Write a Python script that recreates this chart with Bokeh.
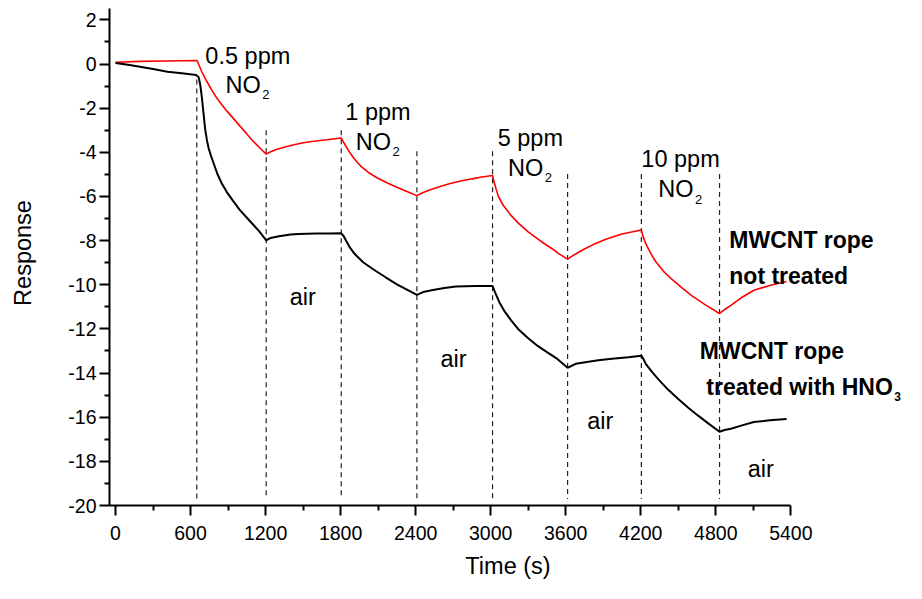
from bokeh.plotting import figure
from bokeh.models import Range1d, FixedTicker
from bokeh.core.properties import value
from bokeh.embed import file_html
from bokeh.resources import INLINE

# ---- data ----
time_red = [0, 200, 400, 652, 690, 731, 770, 809, 850, 888, 940, 992, 1045, 1097, 1150, 1205,
            1240, 1280, 1340, 1410, 1490, 1570, 1690, 1805,
            1820, 1840, 1870, 1910, 1960, 2020, 2090, 2170, 2250, 2330, 2410,
            2460, 2511, 2590, 2669, 2760, 2852, 2930, 3015,
            3030, 3045, 3062, 3100, 3166, 3230, 3300, 3370, 3430, 3500, 3546, 3615,
            3650, 3690, 3742, 3820, 3926, 4050, 4205,
            4215, 4240, 4280, 4319, 4380, 4450, 4530, 4607, 4720, 4830,
            4870, 4921, 5000, 5105, 5230, 5366]
resp_red = [0.08, 0.12, 0.14, 0.16, -0.35, -0.79, -1.18, -1.53, -1.84, -2.11, -2.45, -2.79, -3.13, -3.47, -3.78, -4.08,
            -3.97, -3.88, -3.78, -3.68, -3.58, -3.51, -3.43, -3.35,
            -3.5, -3.7, -3.98, -4.3, -4.62, -4.9, -5.15, -5.38, -5.58, -5.77, -5.96,
            -5.82, -5.71, -5.56, -5.42, -5.3, -5.2, -5.12, -5.05,
            -5.4, -5.7, -6.0, -6.4, -6.88, -7.25, -7.6, -7.9, -8.14, -8.4, -8.6, -8.84,
            -8.7, -8.57, -8.4, -8.18, -7.93, -7.7, -7.52,
            -7.75, -8.14, -8.58, -8.95, -9.38, -9.76, -10.14, -10.49, -10.92, -11.3,
            -11.12, -10.93, -10.6, -10.25, -10.03, -9.85]

time_black = [0, 100, 207, 300, 416, 530, 645,
              665, 678, 691, 704, 717, 731, 744, 763, 783, 815, 849, 890, 940, 990, 1045, 1100, 1150, 1205,
              1240, 1307, 1400, 1464, 1600, 1700, 1805,
              1825, 1845, 1875, 1909, 1980, 2066, 2160, 2250, 2330, 2410,
              2460, 2538, 2630, 2721, 2880, 3015,
              3035, 3070, 3114, 3165, 3219, 3300, 3376, 3450, 3533, 3615,
              3680, 3769, 3860, 3950, 4100, 4205,
              4225, 4240, 4290, 4345, 4420, 4502, 4580, 4659, 4745, 4830,
              4870, 4921, 5010, 5105, 5230, 5366]
resp_black = [0.05, -0.03, -0.13, -0.22, -0.35, -0.42, -0.5,
              -0.6, -0.95, -1.53, -2.25, -2.95, -3.45, -3.8, -4.15, -4.47, -4.98, -5.4, -5.8, -6.2, -6.58, -6.93, -7.27, -7.58, -7.99,
              -7.88, -7.8, -7.72, -7.7, -7.68, -7.68, -7.67,
              -7.8, -8.02, -8.32, -8.58, -8.98, -9.32, -9.66, -9.98, -10.22, -10.46,
              -10.33, -10.24, -10.15, -10.08, -10.05, -10.05,
              -10.34, -10.8, -11.23, -11.62, -12.0, -12.42, -12.77, -13.05, -13.36, -13.76,
              -13.58, -13.5, -13.42, -13.36, -13.28, -13.21,
              -13.4, -13.58, -13.95, -14.31, -14.76, -15.19, -15.57, -15.93, -16.3, -16.66,
              -16.58, -16.52, -16.37, -16.22, -16.14, -16.08]

switch_times = [650, 1205, 1805, 2410, 3015, 3615, 4205, 4830]
dash_tops = [-0.7, -3.0, -3.0, -3.95, -3.95, -4.98, -4.98, -4.98]
dash_bottom = -19.7

conc_labels = ["0.5 ppm", "1 ppm", "5 ppm", "10 ppm"]
conc_x = [1058, 2099, 3317, 4518]
conc_y = [0.36, -2.19, -3.35, -4.32]
no2_y = [-0.94, -3.51, -4.69, -5.67]

air_x = [1497, 2703, 3877, 5160]
air_y = [-10.56, -13.36, -16.15, -18.36]

sample_labels = ["MWCNT rope", "not treated", "MWCNT rope", "treated with HNO"]
sample_x = [4908, 4908, 4672, 4724]
sample_y = [-7.99, -9.59, -13.02, -14.61]

x_ticks = [0, 600, 1200, 1800, 2400, 3000, 3600, 4200, 4800, 5400]
x_minor = [300, 900, 1500, 2100, 2700, 3300, 3900, 4500, 5100]
y_ticks = [-20, -18, -16, -14, -12, -10, -8, -6, -4, -2, 0, 2]
y_tick_labels = ["-20", "-18", "-16", "-14", "-12", "-10", "-8", "-6", "-4", "-2", "0", "2"]
y_minor = [-19, -17, -15, -13, -11, -9, -7, -5, -3, -1, 1]

FONT = "Liberation Sans"

p = figure(width=906, height=583, x_range=Range1d(-48, 6325), y_range=Range1d(-20, 2.88),
           output_backend="svg", toolbar_location=None,
           min_border_left=109, min_border_right=0, min_border_top=0, min_border_bottom=78)
p.outline_line_color = None
p.xgrid.visible = False
p.ygrid.visible = False
p.background_fill_color = "white"
p.border_fill_color = "white"

# axes
p.xaxis.bounds = (-48, 5400)
p.yaxis.bounds = (-20, 2.5)
p.xaxis.ticker = FixedTicker(ticks=x_ticks, minor_ticks=x_minor)
p.yaxis.ticker = FixedTicker(ticks=y_ticks, minor_ticks=y_minor)
p.yaxis.major_label_overrides = {t: s for t, s in zip(y_ticks, y_tick_labels)}
for ax in (p.xaxis, p.yaxis):
    ax.axis_line_width = 2
    ax.axis_line_color = "black"
    ax.major_tick_line_width = 2
    ax.minor_tick_line_width = 2
    ax.major_tick_line_color = "black"
    ax.minor_tick_line_color = "black"
    ax.major_tick_in = 0
    ax.major_tick_out = 10
    ax.minor_tick_in = 0
    ax.minor_tick_out = 5
    ax.major_label_text_font = FONT
    ax.major_label_text_font_size = "19.5px"
    ax.major_label_text_color = "black"
    ax.axis_label_text_font = FONT
    ax.axis_label_text_font_size = "23.5px"
    ax.axis_label_text_font_style = "normal"
    ax.axis_label_text_color = "black"
p.xaxis.axis_label = "Time (s)"
p.yaxis.axis_label = "Response"
p.xaxis.major_label_standoff = 10
p.yaxis.major_label_standoff = 3
p.xaxis.axis_label_standoff = 10
p.yaxis.axis_label_standoff = 29

# dashed switching lines
p.segment(x0=switch_times, y0=dash_tops, x1=switch_times, y1=[dash_bottom] * len(switch_times),
          line_color="#222222", line_width=1.2, line_dash="5 4")

# curves
p.line(time_red, resp_red, line_color="#ff0000", line_width=1.6)
p.line(time_black, resp_black, line_color="black", line_width=2)

# concentration labels
p.text(x=conc_x, y=conc_y, text=conc_labels, text_font=value(FONT), text_font_size="23.5px",
       text_align="center", text_baseline="alphabetic", text_color="black")
p.text(x=conc_x, y=no2_y, text=["NO"] * 4, text_font=value(FONT), text_font_size="23.5px",
       text_align="right", text_baseline="alphabetic", text_color="black", x_offset=13)
p.text(x=conc_x, y=no2_y, text=["2"] * 4, text_font=value(FONT), text_font_size="13px",
       text_align="left", text_baseline="alphabetic", text_color="black", x_offset=14.5, y_offset=10)

# air labels
p.text(x=air_x, y=air_y, text=["air"] * 4, text_font=value(FONT), text_font_size="23.5px",
       text_align="center", text_baseline="alphabetic", text_color="black")

# sample labels
p.text(x=sample_x, y=sample_y, text=sample_labels, text_font=value(FONT), text_font_size="23px",
       text_font_style="bold", text_align="left", text_baseline="alphabetic", text_color="black")
p.text(x=[sample_x[3]], y=[sample_y[3]], text=["3"], text_font=value(FONT), text_font_size="12px",
       text_font_style="bold", text_align="left", text_baseline="alphabetic", text_color="black",
       x_offset=188, y_offset=10)

open("out.html", "w").write(file_html(p, INLINE))
